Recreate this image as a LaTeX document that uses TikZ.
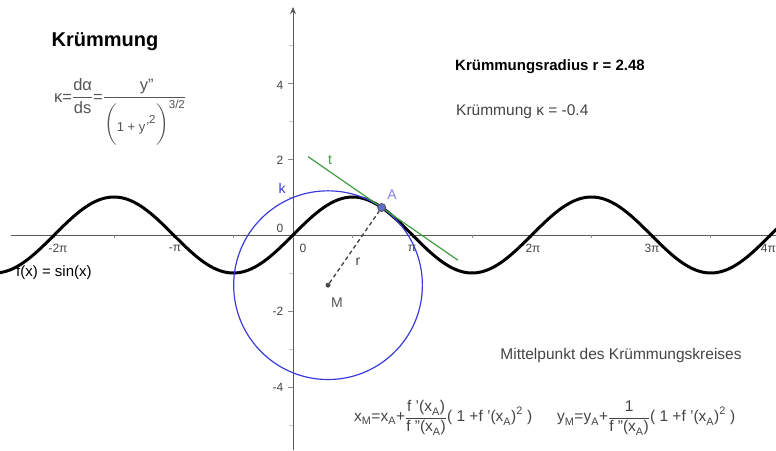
\documentclass[tikz,border=0pt]{standalone}
\usepackage{amsmath}
\usepackage{fontspec}
\setmainfont{Liberation Sans}
\usetikzlibrary{arrows.meta}
\definecolor{axisgray}{HTML}{5A5A5A}
\definecolor{labgray}{HTML}{444444}
\definecolor{formgray}{HTML}{555555}
\definecolor{circblue}{HTML}{3C3CDC}
\definecolor{tangreen}{HTML}{3F9F3F}
\definecolor{ptblue}{HTML}{5D6FD0}
\definecolor{alabel}{HTML}{7F85E0}
\newcommand{\tx}[1]{\text{#1}}
\tikzset{
  axisline/.style={draw=axisgray, line width=0.9pt},
  ticklab/.style={text=labgray, font=\fontsize{12}{14}\selectfont, inner sep=0pt},
  tickmark/.style={draw=axisgray!70, line width=0.7pt},
  minortick/.style={draw=axisgray!35, line width=0.7pt},
  plain/.style={inner sep=0pt, font=\fontsize{15.5}{18}\selectfont, text=labgray},
  formula/.style={inner sep=0pt, font=\fontsize{15.5}{18}\selectfont, text=formgray},
  ptA/.style={circle, fill=ptblue, draw=black!70, line width=0.8pt, minimum size=8pt, inner sep=0pt},
  ptM/.style={circle, fill=black!70, minimum size=5pt, inner sep=0pt},
}
\begin{document}
\begin{tikzpicture}[x=1pt, y=-1pt]
\useasboundingbox (0,0) rectangle (776,450);
% axes
\coordinate (xl) at (11,235);
\coordinate (xr) at (776,235);
\coordinate (yb) at (293,450);
\coordinate (yt) at (293,7);
\draw[axisline] (xl) -- (xr);
\draw[axisline, -{Stealth[length=7pt,width=6pt]}] (yb) -- (yt);
% y ticks
\foreach \v in {-5,-3,-1,1,3,5} {\draw[minortick] (289,235-38*\v) -- (293,235-38*\v);}
\foreach \v in {-4,-2,2,4} {\draw[tickmark] (288,235-38*\v) -- (293,235-38*\v);}
% x ticks at multiples of pi/2
\foreach \k in {-4,...,8} {\draw[tickmark] (293+59.69*\k,235) -- (293+59.69*\k,238);}
% tick labels
\node[ticklab] (ly4) at (280,85) {4};
\node[ticklab] (ly2) at (280,160) {2};
\node[ticklab] (ly0) at (280,228) {0};
\node[ticklab] (lym2) at (278,311) {-2};
\node[ticklab] (lym4) at (278,387) {-4};
\node[ticklab] (lx0) at (303,248) {0};
\node[ticklab] (lxm2) at (58,248) {-2π};
\node[ticklab] (lxm1) at (175,248) {-π};
\node[ticklab] (lx1) at (412,248) {π};
\node[ticklab] (lx2) at (533,248) {2π};
\node[ticklab] (lx3) at (652,248) {3π};
\node[ticklab, anchor=east] (lx4) at (776,248) {4π};
% data scope
\begin{scope}[shift={(293,235)}, x=38pt, y=38pt]
  \draw[line width=3pt, black, line cap=round] plot[domain=-7.72:12.72, samples=400, smooth] (\x, {sin(\x r)});
  \coordinate (Mc) at (0.9218,-1.3203);
  \draw[circblue, line width=1.2pt] (Mc) circle[radius=2.483];
  \coordinate (t1) at (0.395,2.0623);
  \coordinate (t2) at (4.34,-0.6633);
  \draw[tangreen, line width=1.2pt] (t1) -- (t2);
  \node[ptM] (M) at (Mc) {};
  \node[ptA] (A) at (2.3335,0.7230) {};
  \draw[black!75, line width=1.3pt, dash pattern=on 4pt off 3pt] (M) -- (A);
\end{scope}
% curve labels
\node[inner sep=0pt, text=circblue, font=\fontsize{14}{16}\selectfont] (lk) at (282,188) {k};
\node[inner sep=0pt, text=tangreen, font=\fontsize{14}{16}\selectfont] (lt) at (330,160) {t};
\node[inner sep=0pt, text=alabel, font=\fontsize{14}{16}\selectfont] (lA) at (392,195) {A};
\node[inner sep=0pt, text=labgray, font=\fontsize{14}{16}\selectfont] (lr) at (358,262) {r};
\node[inner sep=0pt, text=formgray, font=\fontsize{14}{16}\selectfont] (lM) at (337,303) {M};
% texts
\node[inner sep=0pt, font=\bfseries\fontsize{20}{24}\selectfont] (title) at (105,42) {Krümmung};
\node[inner sep=0pt, font=\bfseries\fontsize{15}{18}\selectfont] (radius) at (550,67) {Krümmungsradius r = 2.48};
\node[plain, anchor=west] (kappa) at (456,112) {Krümmung κ = -0.4};
\node[plain, text=black, font=\fontsize{15}{18}\selectfont, anchor=west] (fx) at (16,273) {f(x) = sin(x)};
\node[plain] (mp) at (621,355) {Mittelpunkt des Krümmungskreises};
\node[formula, font=\fontsize{16.5}{19}\selectfont, anchor=base west] (kform) at (54,102)
  {$\displaystyle\tx{κ}\tx{=}\frac{\tx{dα}}{\tx{ds}}\tx{=}\frac{\tx{\hspace{4pt}y"}}{\bigg(\raisebox{-3pt}{\tx{\fontsize{13}{15}\selectfont 1 + y\kern1pt'}}^{\tx{2}}\bigg)^{\tx{3/2}}}$};
\node[formula, text=labgray, anchor=west] (xm) at (354,418)
  {$\displaystyle\tx{x}_{\tx{M}}\tx{=x}_{\tx{A}}\tx{+}\frac{\tx{f '(x}_{\tx{A}}\tx{)}}{\tx{f "(x}_{\tx{A}}\tx{)}}\tx{( 1 +f '(x}_{\tx{A}}\tx{)}^{\tx{2}}\tx{ )}$};
\node[formula, text=labgray, anchor=west] (ym) at (557,418)
  {$\displaystyle\tx{y}_{\tx{M}}\tx{=y}_{\tx{A}}\tx{+}\frac{\tx{\hspace{3pt}1\hspace{3pt}}}{\tx{f "(x}_{\tx{A}}\tx{)}}\tx{( 1 +f '(x}_{\tx{A}}\tx{)}^{\tx{2}}\tx{ )}$};
\end{tikzpicture}
\end{document}
